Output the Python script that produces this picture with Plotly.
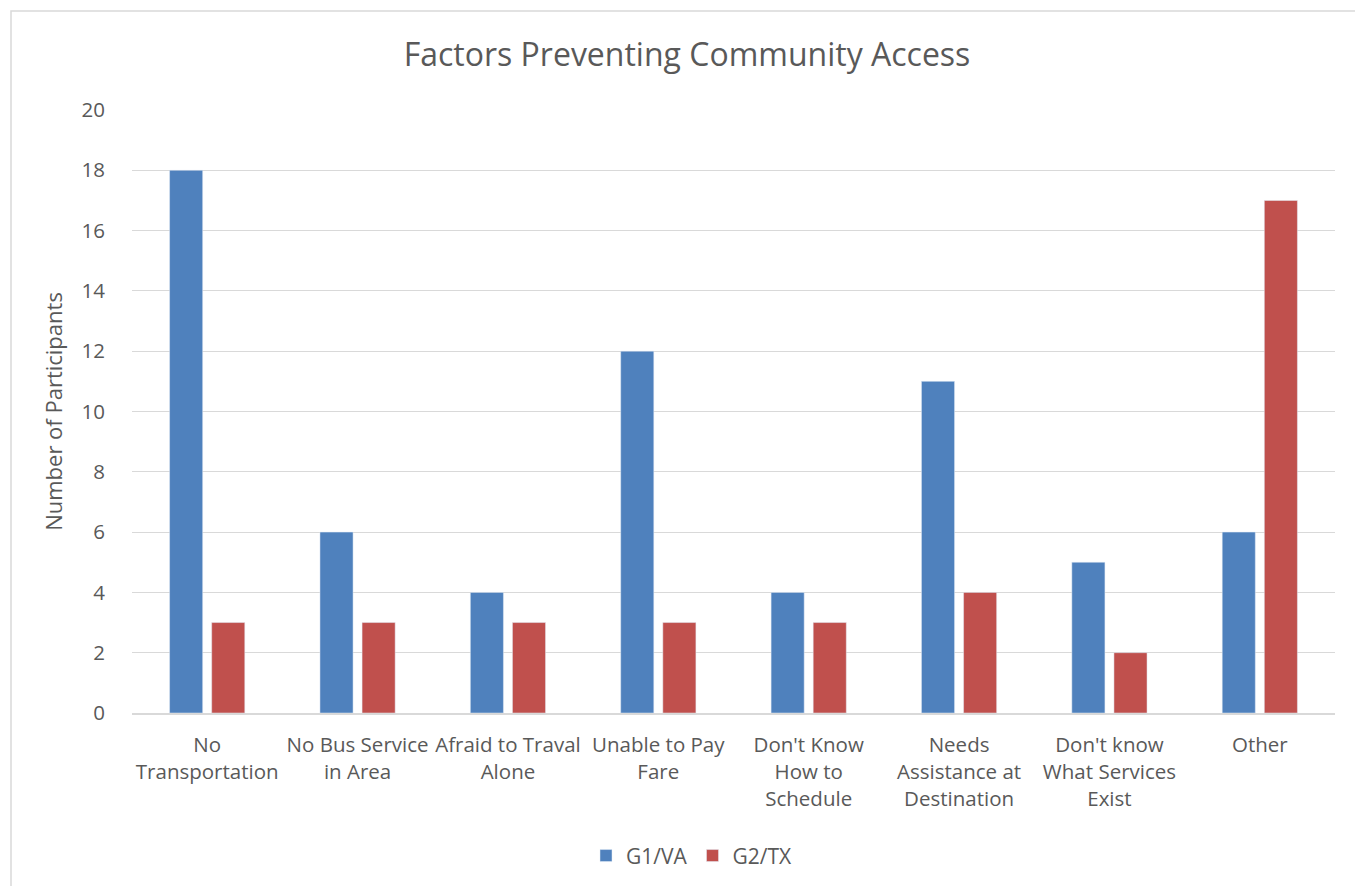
import plotly.graph_objects as go

categories = ["No<br>Transportation", "No Bus Service<br>in Area", "Afraid to Traval<br>Alone",
              "Unable to Pay<br>Fare", "Don't Know<br>How to<br>Schedule",
              "Needs<br>Assistance at<br>Destination", "Don't know<br>What Services<br>Exist", "Other"]
g1_va = [18, 6, 4, 12, 4, 11, 5, 6]
g2_tx = [3, 3, 3, 3, 3, 4, 2, 17]

FONT = "Open Sans"
TXT = "#595959"

fig = go.Figure()
fig.add_trace(go.Bar(name="G1/VA", x=categories, y=g1_va, marker_color="#4F81BD"))
fig.add_trace(go.Bar(name="G2/TX", x=categories, y=g2_tx, marker_color="#C0504D"))

fig.update_layout(
    width=1355, height=886,
    paper_bgcolor="white", plot_bgcolor="white",
    margin=dict(l=132, r=20, t=110, b=173, autoexpand=False),
    barmode="group", bargap=0.44, bargroupgap=0.214,
    font=dict(family=FONT, color=TXT, size=20),
    title=dict(text="Factors Preventing Community Access", x=687/1355, xanchor="center",
               y=1 - 55/886, yref="container", yanchor="middle",
               font=dict(family=FONT, size=32, color=TXT)),
    legend=dict(orientation="h", x=(692 - 132) / 1203, xanchor="center",
                y=-0.237, yanchor="middle",
                font=dict(family=FONT, size=21, color=TXT), traceorder="normal"),
    xaxis=dict(showgrid=False, ticks="outside", ticklen=13, tickcolor="rgba(0,0,0,0)",
               showline=True, linecolor="#d9d9d9", linewidth=1.5, tickangle=0,
               tickfont=dict(family=FONT, size=20.5, color=TXT)),
    yaxis=dict(range=[0, 20], dtick=2, showgrid=True, gridcolor="#d9d9d9", gridwidth=1.2,
               zeroline=False, showline=False, ticks="outside", ticklen=22,
               tickcolor="rgba(0,0,0,0)",
               tickfont=dict(family=FONT, size=20.5, color=TXT),
               title=dict(text="Number of Participants", font=dict(family=FONT, size=22, color=TXT),
                          standoff=12)),
    shapes=[dict(type="rect", xref="paper", yref="paper",
                 x0=(11 - 132) / 1203, x1=1.2, y0=-0.5, y1=(713 - 11) / 603,
                 line=dict(color="#d9d9d9", width=1.5), fillcolor="rgba(0,0,0,0)", layer="below")],
)

fig.write_html("out.html")
